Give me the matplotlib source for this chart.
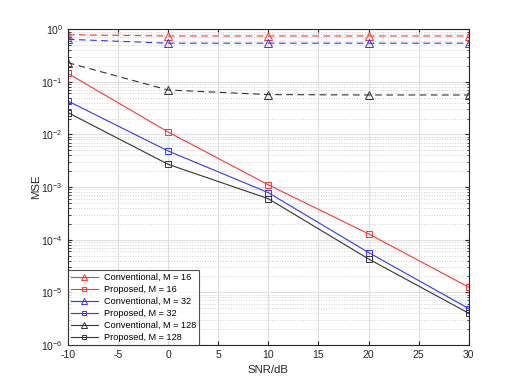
import matplotlib.pyplot as plt
from matplotlib.lines import Line2D
import numpy as np

plt.rcParams['font.family'] = ['Liberation Sans', 'DejaVu Sans']
plt.rcParams['mathtext.fontset'] = 'custom'
plt.rcParams['mathtext.rm'] = 'Liberation Sans'
plt.rcParams['axes.unicode_minus'] = False

# SNR points (dB)
snr = [-10, 0, 10, 20, 30]

# MSE values
conv_16 = [0.78, 0.74, 0.74, 0.74, 0.74]
prop_16 = [0.144, 0.0111, 1.1e-3, 1.29e-4, 1.25e-5]
conv_32 = [0.64, 0.54, 0.54, 0.54, 0.54]
prop_32 = [0.043, 4.84e-3, 7.8e-4, 5.7e-5, 4.9e-6]
conv_128 = [0.23, 0.0697, 0.057, 0.056, 0.056]
prop_128 = [0.026, 2.7e-3, 6.0e-4, 4.3e-5, 4.0e-6]

series = [
    (conv_16, 'Conventional, M = 16', '#ff3535', '^', '--'),
    (prop_16, 'Proposed, M = 16', '#ff3535', 's', '-'),
    (conv_32, 'Conventional, M = 32', '#3535ff', '^', '--'),
    (prop_32, 'Proposed, M = 32', '#3535ff', 's', '-'),
    (conv_128, 'Conventional, M = 128', '#333333', '^', '--'),
    (prop_128, 'Proposed, M = 128', '#333333', 's', '-'),
]

fig = plt.figure(figsize=(5.18, 3.88), dpi=100)
ax = fig.add_axes([0.131, 0.111, 0.774, 0.814])

handles = []
for vals, lab, col, mk, ls in series:
    ms = 5.5 if mk == '^' else 3.8
    ax.semilogy(snr, vals, linestyle=ls, color=col, marker=mk, markersize=ms,
                markerfacecolor='none', markeredgewidth=0.7, linewidth=0.8,
                dashes=(6, 4) if ls == '--' else (None, None))
    # legend shows solid lines with smaller markers
    handles.append(Line2D([], [], color=col, linestyle='-', linewidth=0.8,
                          marker=mk, markersize=5 if mk == '^' else 3,
                          markerfacecolor='none', markeredgewidth=0.7, label=lab))

ax.set_xlim(-10, 30)
ax.set_ylim(1e-6, 1)
ax.set_xticks([-10, -5, 0, 5, 10, 15, 20, 25, 30])
ax.set_yticks([1e-6, 1e-5, 1e-4, 1e-3, 1e-2, 1e-1, 1])

ax.grid(True, which='major', color='#e0e0e0', linewidth=0.8)
ax.grid(True, which='minor', axis='y', color='#d0d0d0', linestyle=':', linewidth=0.7)
ax.set_axisbelow(True)

ax.tick_params(which='both', direction='in', top=True, right=True,
               labelsize=7.5, colors='#262626', length=3)
ax.tick_params(which='minor', length=1.8)
for sp in ax.spines.values():
    sp.set_color('#262626')
    sp.set_linewidth(0.8)

ax.set_xlabel('SNR/dB', fontsize=8.2, color='#262626', labelpad=4)
ax.set_ylabel('MSE', fontsize=8.2, color='#262626', labelpad=0)

leg = ax.legend(handles=handles, loc='lower left', fontsize=6.6, frameon=True,
                fancybox=False, edgecolor='#262626', borderaxespad=0,
                handlelength=3.0, labelspacing=0.33, borderpad=0.3,
                handletextpad=0.6)
leg.get_frame().set_linewidth(0.8)

fig.savefig('out.png', dpi=100)
